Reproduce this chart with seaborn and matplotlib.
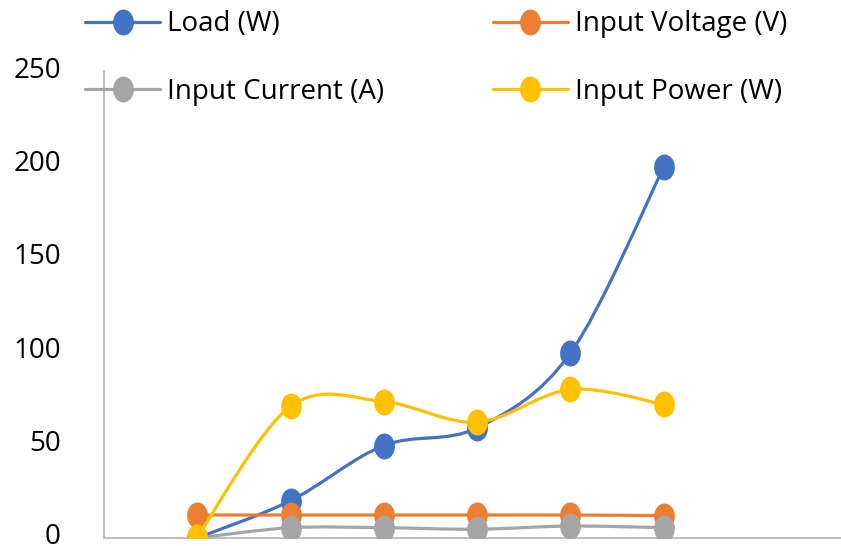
import numpy as np
import pandas as pd
import seaborn as sns
import matplotlib.pyplot as plt
import matplotlib.transforms as mtransforms
from matplotlib.path import Path
from matplotlib.patches import PathPatch
from matplotlib.lines import Line2D

# Data
steps = [1, 2, 3, 4, 5, 6]
load_w = [0, 20, 49.5, 59, 99, 198.5]
input_voltage = [12.3, 12.3, 12.3, 12.3, 12.3, 12]
input_current = [0, 5.5, 5.5, 4.7, 6.4, 5.5]
input_power = [0.5, 70.5, 73, 62, 79.5, 71.5]

series_names = ['Load (W)', 'Input Voltage (V)', 'Input Current (A)', 'Input Power (W)']
colors = ['#4472C4', '#ED7D31', '#A5A5A5', '#FFC000']

df = pd.DataFrame({
    'Step': steps * 4,
    'Value': load_w + input_voltage + input_current + input_power,
    'Series': [n for n in series_names for _ in steps],
})

sns.set_theme(style="white")
plt.rcParams['font.family'] = ['Open Sans', 'DejaVu Sans']
FS = 20

# Excel draws the markers as slightly tall ellipses
circ = Path.unit_circle()
ellipse = Path(circ.vertices * np.array([1.0, 1.25]), circ.codes)
MS = 18.7


def smooth_path(x, y):
    # Excel style "smoothed line": cubic Bezier segments (Catmull-Rom tangents)
    pts = np.column_stack([x, y]).astype(float)
    verts = [pts[0]]
    codes = [Path.MOVETO]
    n = len(pts)
    for i in range(n - 1):
        p0 = pts[max(i - 1, 0)]
        p1 = pts[i]
        p2 = pts[i + 1]
        p3 = pts[min(i + 2, n - 1)]
        verts += [p1 + (p2 - p0) / 6, p2 - (p3 - p1) / 6, p2]
        codes += [Path.CURVE4] * 3
    return Path(verts, codes)


fig = plt.figure(figsize=(8.41, 5.46), dpi=100)
ax = fig.add_axes([104 / 841, 1 - 538 / 546, (841 - 104) / 841, (538 - 71) / 546])

for i, (name, color) in enumerate(zip(series_names, colors)):
    sub = df[df['Series'] == name]
    ax.add_patch(PathPatch(smooth_path(sub['Step'], sub['Value']), fill=False,
                           edgecolor=color, lw=2.3, capstyle='round',
                           joinstyle='round', zorder=2 + 2 * i))
    sns.scatterplot(data=sub, x='Step', y='Value', color=color, marker=ellipse,
                    s=MS ** 2, linewidth=0, zorder=3 + 2 * i, legend=False, ax=ax)

ax.set_xlim(0, 7.9)
ax.set_ylim(0, 250)
ax.set_yticks([0, 50, 100, 150, 200, 250])
ax.set_xticks([])
ax.set_xlabel('')
ax.set_ylabel('')
ax.tick_params(axis='y', length=0, pad=31, labelsize=FS, labelcolor='black')
# nudge tick labels up a little, like the reference
shift = mtransforms.ScaledTranslation(0, 4 / 100, fig.dpi_scale_trans)
for lab in ax.get_yticklabels():
    lab.set_transform(lab.get_transform() + shift)
for side in ['top', 'right']:
    ax.spines[side].set_visible(False)
for side in ['left', 'bottom']:
    ax.spines[side].set_color('#BFBFBF')
    ax.spines[side].set_linewidth(1.4)

handles = [Line2D([], [], color=c, lw=2.3, marker=ellipse, markersize=MS,
                  markeredgewidth=0) for c in colors]
# order so that two columns read Load / Current and Voltage / Power
order = [0, 2, 1, 3]
fig.legend([handles[k] for k in order], [series_names[k] for k in order],
           ncol=2, loc='upper left', bbox_to_anchor=(72 / 841, 1 + 3 / 546),
           frameon=False, fontsize=FS, labelcolor='black', handlelength=2.7,
           handletextpad=0.25, labelspacing=1.42, columnspacing=3.9,
           borderaxespad=0.08)

fig.savefig('out.png', dpi=100)
